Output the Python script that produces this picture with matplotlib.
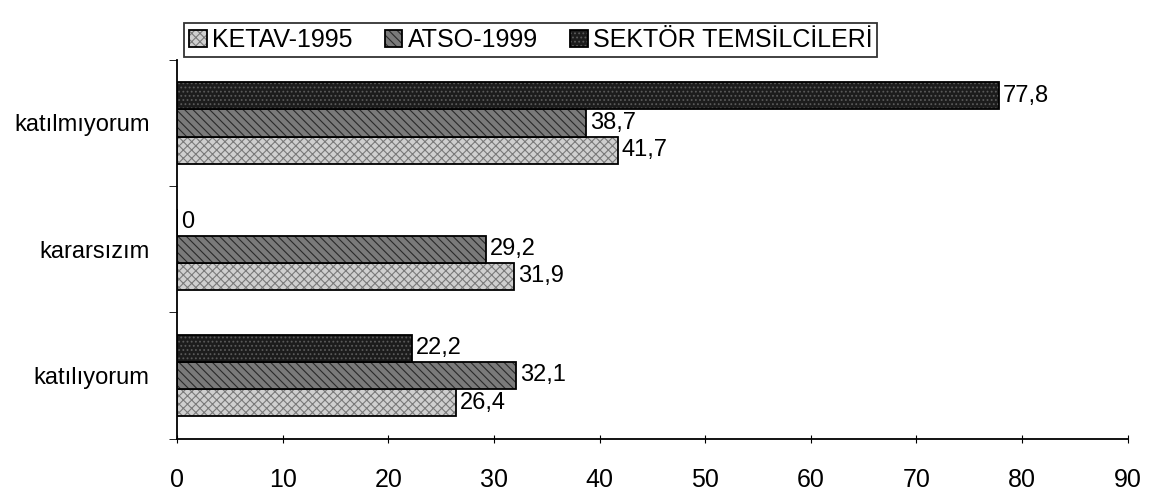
import matplotlib
matplotlib.use("Agg")
import matplotlib.pyplot as plt
import numpy as np

categories = ["katılıyorum", "kararsızım", "katılmıyorum"]
series = ["KETAV-1995", "ATSO-1999", "SEKTÖR TEMSİLCİLERİ"]
ketav = [26.4, 31.9, 41.7]
atso = [32.1, 29.2, 38.7]
sektor = [22.2, 0.0, 77.8]
xticks = [0, 10, 20, 30, 40, 50, 60, 70, 80, 90]

plt.rcParams.update({
    "font.family": ["Liberation Sans", "DejaVu Sans"],
    "font.size": 17,
    "hatch.linewidth": 0.8,
})

fig = plt.figure(figsize=(11.66, 5.03), dpi=100)
ax = fig.add_axes([0.152, 0.128, 0.815, 0.753])

# fill, hatch, hatch colour per series
styles = [
    dict(facecolor="#cfcfcf", hatch="xxxx", hatchcolor="#7a7a7a"),
    dict(facecolor="#7a7a7a", hatch="\\\\\\\\", hatchcolor="#2a2a2a"),
    dict(facecolor="#1c1c1c", hatch="....", hatchcolor="#5a5a5a"),
]
h = 0.215
y = np.arange(len(categories))
offsets = [-h, 0, h]
for vals, name, off, st in zip([ketav, atso, sektor], series, offsets, styles):
    bars = ax.barh(y + off, vals, height=h, edgecolor="black", linewidth=1.3,
                   facecolor=st["facecolor"], hatch=st["hatch"], label=name)
    for b in bars:
        b._hatch_color = matplotlib.colors.to_rgba(st["hatchcolor"])
    for yy, v in zip(y + off, vals):
        ax.text(v + 0.4, yy, f"{v:g}".replace(".", ","), ha="left", va="center",
                fontsize=17,
                bbox=dict(facecolor="white", edgecolor="none", pad=0.5))

ax.set_xlim(0, 90)
ax.set_ylim(-0.5, 2.5)
ax.set_xticks(xticks)
ax.set_yticks(y)
ax.set_yticklabels(categories, fontsize=17)
ax.set_yticks([-0.5, 0.5, 1.5, 2.5], minor=True)
ax.tick_params(axis="y", which="major", length=0, pad=20)
ax.tick_params(axis="y", which="minor", length=6, direction="out")
ax.tick_params(axis="x", length=6, direction="inout", pad=18, labelsize=18)
for s in ["top", "right"]:
    ax.spines[s].set_visible(False)
for s in ["left", "bottom"]:
    ax.spines[s].set_linewidth(1.3)

leg = ax.legend(loc="lower left", bbox_to_anchor=(0.005, 1.0), ncol=3,
                frameon=True, fancybox=False, edgecolor="black",
                handlelength=0.7, handleheight=0.7, handletextpad=0.2,
                columnspacing=1.3, borderpad=0.2, borderaxespad=0.1,
                prop={"size": 18})
leg.get_frame().set_linewidth(1.3)

fig.savefig("out.png", dpi=100, facecolor="white")
